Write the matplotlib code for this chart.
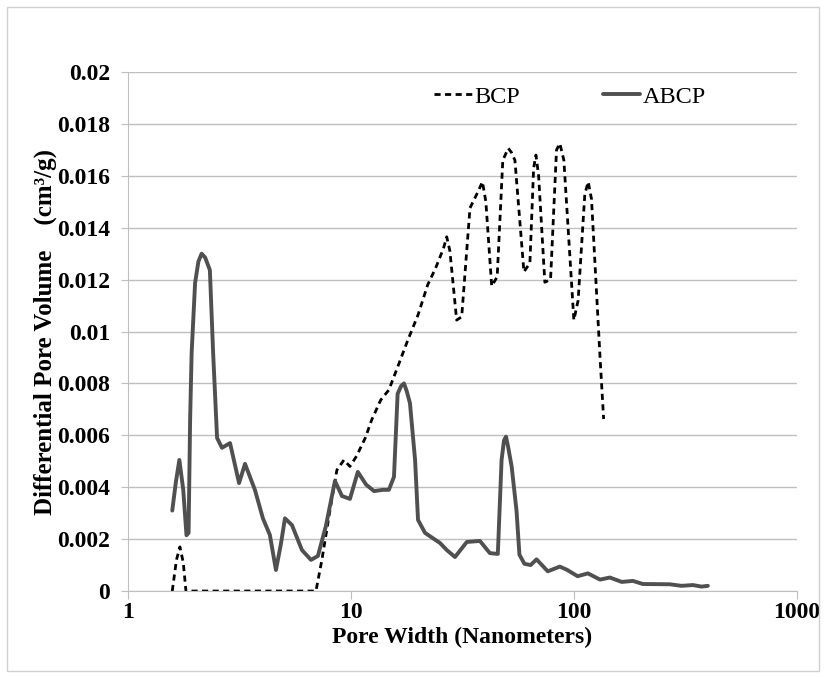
import matplotlib
matplotlib.use("Agg")
import matplotlib.pyplot as plt
from matplotlib.patches import Rectangle

plt.rcParams['font.family'] = ['Liberation Serif', 'DejaVu Serif']

# ABCP (solid) - pore width (nm), differential pore volume (cm3/g)
abcp_x = [1.58, 1.64, 1.70, 1.77, 1.83, 1.87, 1.90, 1.93, 2.0, 2.07, 2.14, 2.22,
          2.33, 2.41, 2.51, 2.64, 2.87, 3.15, 3.35, 3.71,
          4.03, 4.33, 4.61, 4.85, 5.06, 5.44, 6.03, 6.62, 7.11, 7.72, 8.48, 9.12, 9.9,
          10.74, 11.7, 12.7, 13.9, 14.8, 15.6, 16.2, 16.8, 17.3, 17.8, 18.4, 19.4,
          20.0, 21.5, 25.1, 26.9,
          29.3, 33.1, 37.9, 42.0, 45.6, 47.4, 48.6, 49.6, 50.6, 52.6, 55.3, 57.0,
          60.0, 64.0, 68.0, 76.4, 86.5,
          93.0, 104, 115.6, 131, 145, 164, 184, 204, 269, 304, 342, 374, 399]
abcp_y = [0.0031, 0.0042, 0.00505, 0.0039, 0.00215, 0.00224, 0.0066, 0.00917,
          0.01187, 0.0127, 0.0130, 0.01285, 0.01237, 0.00917, 0.0059, 0.00552, 0.0057,
          0.00416, 0.0049, 0.0039, 0.0028, 0.00216, 0.00081, 0.0018, 0.0028, 0.00254,
          0.00158, 0.0012, 0.00135, 0.0025, 0.00424, 0.00366, 0.00355, 0.00459, 0.0041,
          0.00385, 0.0039, 0.0039, 0.0044, 0.0076, 0.0079, 0.0080, 0.0077, 0.00724,
          0.00505, 0.00274, 0.00224, 0.00185, 0.00158,
          0.00131, 0.00189, 0.00193, 0.00146, 0.00143, 0.00505, 0.0058, 0.00595,
          0.0056, 0.0048, 0.0031, 0.0014, 0.00105, 0.001, 0.00122, 0.00076, 0.00094,
          0.00082, 0.00057, 0.00068, 0.00044,
          0.00052, 0.00035, 0.00039, 0.00027, 0.00026, 0.0002, 0.00023, 0.00017, 0.0002]

# BCP (dashed)
bcp_x = [1.58, 1.65, 1.71, 1.77, 1.82, 3.0, 5.0, 6.97, 7.41, 8.05, 8.65, 9.3, 9.9,
         10.6, 11.6, 12.4, 13.6, 14.8, 16.2, 18.0, 20.0, 22.1, 24.0, 26.0, 26.9, 27.8,
         29.8, 31.4, 34.2, 37.2, 38.9, 40.3, 42.8, 45.3, 48.0, 50.8, 52.5, 54.4, 59.7,
         63.5, 66.0, 67.6, 69.5, 74.1, 78.6, 83.6, 86.5, 90.2,
         100, 104.5, 112, 116, 120, 131, 136]
bcp_y = [0.0, 0.0012, 0.0017, 0.0011, 0.0, 0.0, 0.0, 0.0, 0.0012, 0.0031, 0.00466,
         0.00505, 0.0048, 0.0052, 0.0059, 0.0066, 0.00736, 0.00775, 0.00863, 0.00967,
         0.01064, 0.0118, 0.01245, 0.0132, 0.01365, 0.0131, 0.01044, 0.01057, 0.01476,
         0.0154, 0.01577, 0.0150, 0.01175, 0.01211, 0.0166, 0.01706, 0.0169, 0.0166,
         0.0123, 0.01264, 0.0163, 0.0168, 0.0160, 0.0119, 0.0120, 0.0170, 0.01725,
         0.0166, 0.01044, 0.0112, 0.0153, 0.01577, 0.0151, 0.00903, 0.00663]

y_ticks = [0, 0.002, 0.004, 0.006, 0.008, 0.01, 0.012, 0.014, 0.016, 0.018, 0.02]
y_labels = ['0', '0.002', '0.004', '0.006', '0.008', '0.01', '0.012', '0.014',
            '0.016', '0.018', '0.02']
x_ticks = [1, 10, 100, 1000]
x_labels = ['1', '10', '100', '1000']

fig = plt.figure(figsize=(8.24, 6.77), dpi=100)
ax = fig.add_axes([0.1553, 0.127, 0.8117, 0.7666])

ax.plot(bcp_x, bcp_y, color='black', lw=2.0, ls=(0, (2.2, 1.6)), label='BCP',
        solid_joinstyle='round')
ax.plot(abcp_x, abcp_y, color='#505050', lw=2.8, label='ABCP',
        solid_joinstyle='round', solid_capstyle='round')

ax.set_xscale('log')
ax.set_xlim(1, 1000)
ax.set_ylim(0, 0.02)
ax.set_xticks(x_ticks)
ax.set_xticklabels(x_labels)
ax.xaxis.set_minor_locator(matplotlib.ticker.NullLocator())
ax.set_yticks(y_ticks)
ax.set_yticklabels(y_labels)

ax.grid(axis='y', color='#bfbfbf', lw=1.0)
ax.set_axisbelow(True)
for s in ['top', 'right']:
    ax.spines[s].set_visible(False)
ax.spines['left'].set_color('#bfbfbf')
ax.spines['bottom'].set_color('#bfbfbf')
ax.tick_params(axis='x', direction='out', length=6, color='#bfbfbf', pad=2,
               labelsize=17)
ax.tick_params(axis='y', direction='out', length=5, color='#bfbfbf', pad=8,
               labelsize=17)
for lab in ax.get_xticklabels() + ax.get_yticklabels():
    lab.set_fontweight('bold')

ax.set_xlabel('Pore Width (Nanometers)', fontsize=17, fontweight='bold', labelpad=3)
ax.set_ylabel('Differential Pore Volume    (cm\u00b3/g)', fontsize=18,
              fontweight='bold', labelpad=0)

ax.legend(loc='center', bbox_to_anchor=(0.661, 0.952), ncol=2, frameon=False,
          fontsize=17.5, handlelength=1.55, handletextpad=0.1, columnspacing=3.4)

fig.add_artist(Rectangle((0.008, 0.009), 0.986, 0.981, transform=fig.transFigure,
                         fill=False, ec='#d0d0d0', lw=1.0))

fig.savefig('out.png', dpi=100)
